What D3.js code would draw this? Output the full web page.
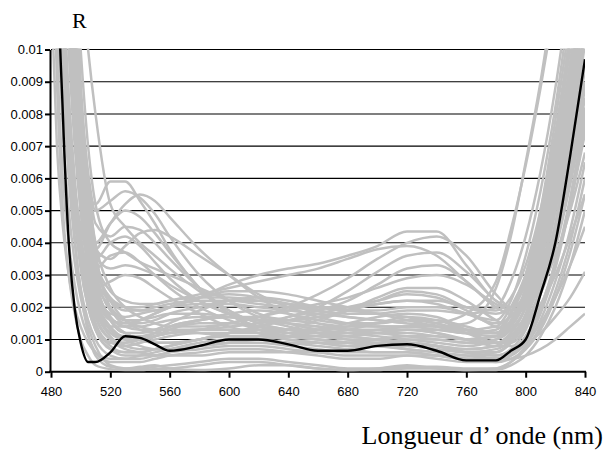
<!DOCTYPE html>
<html><head><meta charset="utf-8">
<script src="https://cdn.jsdelivr.net/npm/d3@7"></script>
<style>html,body{margin:0;padding:0;background:#fff;} svg{display:block;}</style>
</head><body>
<svg id="chart" width="607" height="452"></svg>
<script>
// Wavelengths (nm) at which every spectrum is sampled
const wavelengths = [480,484,488,492,496,500,505,510,520,530,540,550,560,580,600,620,640,660,680,700,720,740,760,780,790,800,810,820,830,840];
// Reflectance values are given in units of 0.001
const UNIT = 0.001;
const xTicks = [480,520,560,600,640,680,720,760,800,840];
const yTicks = [0,0.001,0.002,0.003,0.004,0.005,0.006,0.007,0.008,0.009,0.01];
const yTickLabels = ["0","0.001","0.002","0.003","0.004","0.005","0.006","0.007","0.008","0.009","0.01"];
const xTitle = "Longueur d\u2019 onde (nm)";
const yTitle = "R";

// Mean spectrum (black)
const meanSpectrum = [30,14,8.0,4.0,1.95,0.9,0.3,0.3,0.6,1.1,1.05,0.85,0.65,0.8,1.0,1.0,0.85,0.65,0.65,0.8,0.85,0.65,0.35,0.35,0.65,1.0,2.4,4.0,6.7,9.7];

// Individual spectra (grey)
const specA1 = [30,24,18,13,10,7.6,5.6,5.2,5.9,5.9,5.3,4.6,3.8,2.6,1.8,1.4,1.2,1.1,1.0,1.0,0.9,0.8,0.7,0.8,1.1,1.8,3.4,5.8,9.0,12.5];
const specA2 = [30,26,20,15,11,8.5,6.2,5.0,5.3,5.6,5.4,4.9,4.2,3.0,2.2,1.7,1.5,1.3,1.2,1.1,1.0,0.9,0.8,1.0,1.4,2.2,3.8,6.0,8.8,12];
const specA3 = [28,20,14,10,7.5,5.5,4.2,4.0,4.6,5.0,4.8,4.3,3.7,2.6,1.8,1.3,1.1,1.0,0.9,0.9,1.0,1.0,0.9,0.9,1.2,2.0,3.5,5.8,8.5,12];
const specA4 = [30,25,19,14,10.5,8,6,4.6,4.2,4.5,4.4,4.0,3.5,2.6,1.9,1.5,1.3,1.2,1.3,1.5,1.7,1.6,1.3,1.2,1.5,2.5,4.2,6.6,9.5,13];
const specA5 = [16,11,8.5,7,5.6,4.5,3.6,3.5,4.0,4.2,3.9,3.4,2.9,2.2,1.8,1.6,1.5,1.4,1.3,1.2,1.2,1.1,1.0,1.1,1.5,2.4,4.0,6.2,9.0,12];
const specA6 = [30,27,22,17,13,10,7.0,5.2,4.0,3.7,3.4,3.2,3.0,2.6,2.2,1.8,1.5,1.3,1.2,1.2,1.3,1.3,1.2,1.3,1.8,2.8,4.6,7.0,10,13];
const specA7 = [30,30,28,22,16,12.5,10,8.0,5.2,4.5,4.0,3.6,3.2,2.5,1.9,1.5,1.3,1.2,1.1,1.0,0.9,0.8,0.7,0.8,1.1,1.7,2.8,4.5,6.5,9.0];
const specA8 = [24,15,10,7,5.2,4.0,3.3,3.2,3.6,3.7,3.4,3.0,2.6,2.0,1.6,1.3,1.1,1.0,0.9,0.8,0.8,0.7,0.6,0.7,1.0,1.7,3.0,5.0,7.6,10.5];
const specA9 = [30,22,15,11,8.0,6.0,4.5,3.6,3.2,3.3,3.2,3.0,2.7,2.2,1.8,1.6,1.6,1.7,1.9,2.2,2.5,2.4,2.0,1.8,2.0,2.7,4.0,6.0,8.6,11.5];
const specA10 = [26,18,12,8.5,6.0,4.2,3.0,2.6,2.8,3.0,2.9,2.6,2.3,1.8,1.4,1.2,1.0,0.9,0.8,0.8,0.7,0.6,0.5,0.6,0.9,1.5,2.6,4.3,6.6,9.4];
const specA11 = [30,25,18,13,9.5,7,5,3.8,3.5,3.9,4.3,4.4,4.2,3.6,3.0,2.4,2.0,1.7,1.5,1.4,1.4,1.3,1.2,1.2,1.5,2.3,3.8,6.0,8.8,12];
const specA12 = [30,23,16,11,8,5.7,4.2,3.8,4.6,5.2,5.5,5.3,4.8,3.8,3.0,2.3,1.8,1.5,1.3,1.2,1.1,1.0,0.9,1.0,1.3,2.0,3.4,5.5,8.3,11.5];
const specB1 = [30,24,17,12,8.5,6.0,4.2,3.2,2.3,2.0,1.9,1.9,2.0,2.3,2.7,3.0,3.2,3.35,3.6,3.9,4.35,4.35,3.3,2.2,2.0,2.4,3.5,5.4,8.0,11];
const specB2 = [30,26,20,14,10,7,5,3.5,2.2,1.6,1.3,1.2,1.2,1.3,1.5,1.7,2.0,2.4,2.9,3.5,4.0,4.2,3.6,2.4,2.0,2.2,3.2,5.0,7.6,10.8];
const specB3 = [28,20,14,10,7,5,3.5,2.5,1.6,1.2,1.0,0.9,0.9,1.0,1.2,1.4,1.7,2.0,2.5,3.1,3.6,3.7,3.1,2.2,1.9,2.2,3.2,5.0,7.5,10.5];
const specB4 = [30,22,16,11,8,5.8,4.0,2.9,2.0,1.6,1.4,1.3,1.3,1.3,1.4,1.5,1.7,1.9,2.2,2.7,3.2,3.3,2.8,2.0,1.8,2.1,3.0,4.6,6.8,9.5];
const specB5 = [30,27,21,15,11,8,5.5,4,2.6,2.0,1.7,1.5,1.4,1.4,1.5,1.7,1.9,2.1,2.3,2.6,2.9,3.0,2.7,2.1,1.9,2.0,2.6,3.6,5.0,6.8];
const specB6 = [15,11,8.5,6.8,5.4,4.2,3.0,2.2,1.4,1.0,0.8,0.7,0.7,0.8,0.9,1.1,1.3,1.6,1.9,2.3,2.6,2.6,2.2,1.6,1.4,1.6,2.4,3.8,5.8,8.2];
const specB7 = [30,23,16,11.5,8,5.6,3.8,2.6,1.6,1.2,1.0,0.9,0.9,1.0,1.2,1.4,1.6,1.8,2.0,2.2,2.4,2.3,1.9,1.4,1.3,1.5,2.1,3.0,4.2,5.5];
const specB8 = [30,25,19,13.5,9.5,6.8,4.8,3.5,2.5,2.2,2.1,2.1,2.2,2.4,2.6,2.8,3.0,3.2,3.5,3.8,3.9,3.6,2.8,2.0,1.8,2.0,2.8,4.2,6.2,8.8];
const specC1 = [18,12,8.5,6.5,5,3.6,2.5,1.5,0.8,0.6,0.6,0.7,0.8,1.0,1.2,1.3,1.3,1.2,1.1,1.0,0.9,0.8,0.6,0.6,0.9,1.6,3.0,5.2,8.0,11];
const specC2 = [30,26,19,13,9,6,3.8,2.4,1.3,1.0,1.0,1.1,1.3,1.6,1.8,1.9,1.8,1.6,1.5,1.5,1.6,1.6,1.4,1.2,1.5,2.4,4.0,6.3,9.2,12.5];
const specC3 = [22,14,9,6,4,2.6,1.6,1.0,0.5,0.4,0.4,0.5,0.6,0.8,0.9,0.9,0.8,0.7,0.6,0.6,0.6,0.5,0.4,0.4,0.6,1.1,2.0,3.4,5.2,7.4];
const specC4 = [30,28,22,16,11,7.5,4.8,3.0,1.6,1.2,1.2,1.3,1.5,1.9,2.2,2.3,2.2,2.0,1.9,1.9,2.0,2.0,1.8,1.5,1.7,2.4,3.8,6.0,9.0,12.5];
const specC5 = [28,19,12,8,5.5,3.6,2.2,1.4,0.9,0.9,1.0,1.2,1.4,1.6,1.7,1.6,1.4,1.2,1.0,0.9,0.9,0.8,0.6,0.5,0.7,1.3,2.5,4.4,7.0,10.2];
const specC6 = [30,24,17,12,8,5.2,3.2,2.0,1.1,0.8,0.7,0.7,0.7,0.8,0.9,1.0,1.1,1.3,1.5,1.7,1.8,1.7,1.3,0.9,0.9,1.4,2.6,4.6,7.4,10.8];
const specC7 = [20,12,7.5,5,3.4,2.3,1.4,0.8,0.2,0.1,0.1,0.15,0.2,0.3,0.4,0.4,0.3,0.2,0.1,0.1,0.15,0.15,0.1,0.1,0.3,0.8,1.6,2.8,4.4,6.5];
const specC8 = [30,30,25,18,13,9,6,3.8,2.0,1.5,1.5,1.6,1.8,2.0,2.2,2.2,2.1,2.0,1.9,1.8,1.7,1.5,1.3,1.2,1.6,2.6,4.4,7.0,10.5,14];
const specC9 = [20,13,9,7,5.4,4.0,2.6,1.7,1.0,0.8,0.9,1.1,1.3,1.5,1.5,1.4,1.3,1.3,1.4,1.5,1.6,1.5,1.2,0.9,1.0,1.5,2.5,4.0,6.0,8.5];
const specC10 = [26,17,11,7.5,5,3.3,2.0,1.3,0.7,0.5,0.5,0.5,0.6,0.7,0.8,0.8,0.7,0.6,0.5,0.5,0.5,0.4,0.3,0.3,0.5,1.0,1.9,3.3,5.2,7.6];
const specC11 = [30,25,18,12.5,8.5,5.8,3.8,2.6,1.8,1.7,1.8,1.9,2.0,2.1,2.1,2.0,1.9,1.8,1.7,1.6,1.5,1.4,1.2,1.1,1.4,2.2,3.6,5.6,8.2,11.5];
const specC12 = [30,27,20,14,9.5,6.4,4.2,2.8,1.7,1.4,1.3,1.3,1.3,1.2,1.1,1.0,0.9,0.9,0.9,1.0,1.1,1.1,1.0,0.9,1.2,2.0,3.4,5.4,8.2,11.5];
const specC13 = [18,10,6,4,2.7,1.8,1.1,0.6,0.3,0.3,0.3,0.4,0.5,0.6,0.7,0.7,0.6,0.5,0.4,0.4,0.5,0.5,0.4,0.3,0.4,0.7,1.3,2.3,3.7,5.5];
const specC14 = [17,12,9,7,5.4,4.0,2.8,1.8,1.0,0.7,0.6,0.5,0.5,0.5,0.6,0.6,0.6,0.6,0.7,0.8,0.9,0.8,0.6,0.4,0.5,0.9,1.8,3.2,5.2,7.8];
const specC15 = [12,7,4.5,3,2,1.4,0.9,0.6,0.4,0.4,0.5,0.6,0.7,0.9,1.0,1.0,0.9,0.8,0.7,0.6,0.6,0.5,0.4,0.4,0.6,1.1,2.0,3.4,5.4,8.0];
const specD1 = [30,23,16,11,7.5,5,3.2,2.1,1.2,1.0,1.0,1.1,1.2,1.3,1.3,1.2,1.1,1.0,0.9,0.8,0.7,0.6,0.5,0.4,0.4,0.5,0.7,1.0,1.4,1.8];
const specD2 = [30,26,19,13,9,6.2,4.1,2.8,1.7,1.4,1.4,1.5,1.6,1.7,1.7,1.6,1.5,1.4,1.3,1.3,1.3,1.2,1.0,0.8,0.8,0.9,1.2,1.7,2.3,3.1];
const specD3 = [25,16,10.5,7,4.8,3.2,2.0,1.3,0.7,0.6,0.6,0.7,0.8,1.0,1.1,1.1,1.0,0.9,0.8,0.8,0.8,0.7,0.6,0.5,0.6,0.9,1.5,2.3,3.3,4.5];
const specE1 = [30,24,17,12,8,5.4,3.4,2.2,1.3,1.1,1.1,1.2,1.4,1.6,1.7,1.7,1.6,1.5,1.4,1.4,1.4,1.4,1.5,2.6,4.2,6.5,9.0,12,15,19];
const specE2 = [30,27,21,15,10.5,7.2,4.8,3.2,1.9,1.6,1.6,1.8,2.0,2.3,2.4,2.3,2.1,1.9,1.8,1.8,1.9,1.9,1.8,2.0,2.8,4.2,6.2,8.8,12,15.5];
const specE3 = [28,19,12.5,8.5,5.8,3.9,2.4,1.5,0.9,0.8,0.9,1.0,1.1,1.2,1.2,1.2,1.1,1.1,1.1,1.2,1.3,1.2,1.0,1.1,1.8,3.0,4.8,7.2,10.2,13.5];
const specF1 = [30,25,18,13,9,6.3,4.3,3.0,2.2,2.0,2.0,2.1,2.2,2.3,2.3,2.2,2.1,2.0,2.0,2.1,2.2,2.2,2.0,1.9,2.3,3.3,5.0,7.4,10.5,14];
const specF2 = [27,18,12,8,5.6,3.8,2.5,1.8,1.4,1.4,1.6,1.8,2.0,2.3,2.5,2.5,2.4,2.2,2.0,1.8,1.6,1.4,1.2,1.2,1.8,3.0,5.0,7.8,11,15];
const specF3 = [30,24,17,12,8.2,5.6,3.6,2.4,1.6,1.5,1.6,1.7,1.8,1.8,1.7,1.6,1.6,1.7,1.9,2.1,2.2,2.1,1.8,1.6,2.2,3.6,5.6,8.2,11.5,15];
const specF4 = [30,29,23,17,12,8.2,5.4,3.6,2.2,1.9,1.9,2.0,2.1,2.2,2.2,2.1,2.0,1.9,1.7,1.6,1.5,1.4,1.3,1.4,2.0,3.0,4.6,6.8,9.6,13];
const specF5 = [16,9,5,3,1.8,1.0,0.5,0.2,0.08,0.05,0.05,0.08,0.1,0.2,0.3,0.3,0.2,0.1,0.05,0.05,0.1,0.1,0.05,0.05,0.2,0.5,1.1,2.0,3.3,5.0];
const specF6 = [30,20,12,7,4.2,2.5,1.2,0.5,0.15,0.1,0.15,0.2,0.1,0.05,0.1,0.2,0.2,0.1,0.05,0.1,0.2,0.1,0.05,0.1,0.3,0.7,1.4,2.5,4.0,6.0];
const specF7 = [26,17,11,7.5,5,3.4,2.1,1.4,0.9,0.9,1.0,1.1,1.2,1.3,1.3,1.3,1.2,1.2,1.2,1.3,1.4,1.5,1.8,2.8,4.4,6.4,8.8,11.5,14.5,18];

const greySpectra = [specA1,specA2,specA3,specA4,specA5,specA6,specA7,specA8,specA9,specA10,specA11,specA12,
  specB1,specB2,specB3,specB4,specB5,specB6,specB7,specB8,
  specC1,specC2,specC3,specC4,specC5,specC6,specC7,specC8,specC9,specC10,specC11,specC12,specC13,specC14,specC15,
  specD1,specD2,specD3,specE1,specE2,specE3,specF1,specF2,specF3,specF4,specF5,specF6,specF7];

const svg = d3.select("#chart");
const x = d3.scaleLinear().domain([480, 840]).range([51, 585]);
const y = d3.scaleLinear().domain([0, 0.01]).range([371.7, 49.5]);

const sansFont = "'Liberation Sans', Arial, sans-serif";
const serifFont = "'Liberation Serif', 'Times New Roman', serif";

// Horizontal gridlines
svg.append("g").selectAll("line")
  .data(yTicks.filter(d => d > 0))
  .join("line")
  .attr("x1", x(480)).attr("x2", x(840))
  .attr("y1", d => y(d)).attr("y2", d => y(d))
  .attr("stroke", "#000").attr("stroke-width", 1.1);

// X axis
const xAxis = svg.append("g")
  .attr("transform", `translate(0,${y(0)})`)
  .call(d3.axisBottom(x).tickValues(xTicks).tickFormat(d => String(d)).tickSize(6).tickSizeOuter(0).tickPadding(9));
xAxis.select(".domain").attr("stroke", "#000").attr("stroke-width", 2).attr("d", `M${x(480)-2},0H${x(840)+1}`);
xAxis.selectAll(".tick line").attr("stroke", "#000").attr("stroke-width", 2);
xAxis.selectAll("text").style("font-family", sansFont).style("font-size", "13px").attr("fill", "#000");

// Clip region for the spectra
svg.append("defs").append("clipPath").attr("id", "plotClip")
  .append("rect").attr("x", x(480)).attr("y", y(0.01) - 1)
  .attr("width", x(840) - x(480)).attr("height", y(0) - y(0.01) + 2);

const line = d3.line()
  .x((d, i) => x(wavelengths[i]))
  .y(d => y(d * UNIT))
  .curve(d3.curveMonotoneX);

const plot = svg.append("g").attr("clip-path", "url(#plotClip)");
plot.selectAll("path.grey")
  .data(greySpectra)
  .join("path")
  .attr("class", "grey")
  .attr("d", line)
  .attr("fill", "none")
  .attr("stroke", "#c0c0c0")
  .attr("stroke-width", 2.5)
  .attr("stroke-linejoin", "round");

plot.append("path")
  .datum(meanSpectrum)
  .attr("d", line)
  .attr("fill", "none")
  .attr("stroke", "#000")
  .attr("stroke-width", 2.4)
  .attr("stroke-linejoin", "round");

// Y axis (drawn on top)
const yAxis = svg.append("g")
  .attr("transform", `translate(50,0)`)
  .call(d3.axisLeft(y).tickValues(yTicks).tickFormat((d, i) => yTickLabels[i]).tickSize(5).tickSizeOuter(0).tickPadding(2));
yAxis.select(".domain").attr("stroke", "#000").attr("stroke-width", 2);
yAxis.selectAll(".tick line").attr("stroke", "#000").attr("stroke-width", 2);
yAxis.selectAll("text").style("font-family", sansFont).style("font-size", "13px").attr("fill", "#000");

// Titles
svg.append("text").attr("x", 72).attr("y", 28)
  .style("font-family", serifFont).style("font-size", "22px").attr("fill", "#000")
  .text(yTitle);
svg.append("text").attr("x", 603).attr("y", 444).attr("text-anchor", "end")
  .style("font-family", serifFont).style("font-size", "26px").attr("fill", "#000")
  .text(xTitle);
</script>
</body></html>
